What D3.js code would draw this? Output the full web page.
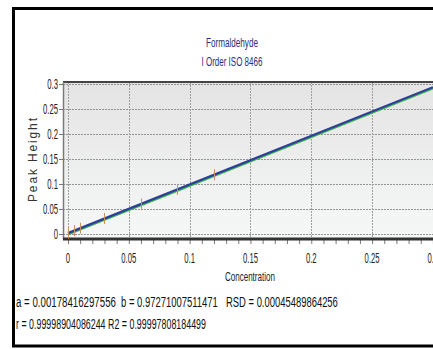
<!DOCTYPE html>
<html>
<head>
<meta charset="utf-8">
<script src="https://cdn.jsdelivr.net/npm/d3@7"></script>
<style>
  html, body { margin: 0; padding: 0; background: #fff; }
  svg { display: block; }
  text { font-family: "Liberation Sans", Arial, sans-serif; }
</style>
</head>
<body>
<div id="chart"></div>
<script>
// calibration data
var concentration = [0, 0.005, 0.01, 0.03, 0.06, 0.09, 0.12, 0.3];
var peakHeight = [0.0016, 0.0066, 0.0115, 0.0311, 0.0601, 0.0893, 0.1185, 0.2936];
var errorHalf = [0.011, 0.011, 0.011, 0.011, 0.011, 0.011, 0.011, 0.011];
var fitA = 0.00178416297556;
var fitB = 0.97271007511471;
var xTicks = [0, 0.05, 0.1, 0.15, 0.2, 0.25, 0.3];
var yTicks = [0, 0.05, 0.1, 0.15, 0.2, 0.25, 0.3];
var xMinor = d3.range(0, 31).map(function(i){ return i / 100; });
var titleLines = ["Formaldehyde", "I Order ISO 8466"];
var statLine1 = ["a = 0.00178416297556", "b = 0.97271007511471", "RSD = 0.00045489864256"];
var statLine2 = "r = 0.99998904086244 R2 = 0.99997808184499";

var W = 433, H = 349;
var svg = d3.select("#chart").append("svg")
    .attr("width", W)
    .attr("height", H);

// squeeze a text horizontally so it spans the given width
function fitText(sel, px, py, width, anchor)
{
    var natural = sel.node().getComputedTextLength();
    var s = width / natural;
    var shift = 0;
    if (anchor == "middle") { shift = -width / 2; }
    sel.attr("transform", "translate(" + (px + shift) + "," + py + ") scale(" + s + ",1)");
}

// outer frame
svg.append("rect")
    .attr("x", 13.5).attr("y", 8.5)
    .attr("width", 440).attr("height", 337.5)
    .attr("fill", "#fff")
    .attr("stroke", "#000")
    .attr("stroke-width", 3);

var pLeft = 63, pRight = 439, pTop = 82, pBottom = 239;

var x = d3.scaleLinear().domain([-0.0041, 0.305]).range([pLeft, pRight]);
var y = d3.scaleLinear().domain([-0.01, 0.304]).range([pBottom, pTop]);

var defs = svg.append("defs");
var grad = defs.append("linearGradient")
    .attr("id", "bg").attr("x1", 0).attr("y1", 0).attr("x2", 0).attr("y2", 1);
grad.append("stop").attr("offset", "0%").attr("stop-color", "#e4e4e4");
grad.append("stop").attr("offset", "100%").attr("stop-color", "#f6f7f7");

defs.append("clipPath").attr("id", "plotclip")
  .append("rect").attr("x", pLeft).attr("y", pTop)
  .attr("width", pRight - pLeft).attr("height", pBottom - pTop);

svg.append("rect")
    .attr("x", pLeft).attr("y", pTop)
    .attr("width", pRight - pLeft).attr("height", pBottom - pTop)
    .attr("fill", "url(#bg)");

// grid
var grid = svg.append("g").attr("clip-path", "url(#plotclip)");
grid.selectAll(".hg").data(yTicks).enter().append("line")
    .attr("x1", pLeft).attr("x2", pRight)
    .attr("y1", function(d){ return Math.round(y(d)) + 0.5; })
    .attr("y2", function(d){ return Math.round(y(d)) + 0.5; })
    .attr("stroke", "#939393").attr("stroke-dasharray", "2,1");
grid.selectAll(".vg").data(xTicks).enter().append("line")
    .attr("y1", pTop).attr("y2", pBottom)
    .attr("x1", function(d){ return Math.round(x(d)) + 0.5; })
    .attr("x2", function(d){ return Math.round(x(d)) + 0.5; })
    .attr("stroke", "#a0a0a0").attr("stroke-dasharray", "2,1");

// plot borders
svg.append("line").attr("x1", pLeft).attr("x2", W).attr("y1", pTop).attr("y2", pTop)
    .attr("stroke", "#444").attr("stroke-width", 2);
svg.append("line").attr("x1", pLeft + 0.5).attr("x2", pLeft + 0.5).attr("y1", pTop).attr("y2", pBottom)
    .attr("stroke", "#7a7a7a").attr("stroke-width", 1.5);

// x axis
var xAxis = d3.axisBottom(x).tickValues(xMinor).tickSize(4).tickFormat("");
var gx = svg.append("g").attr("transform", "translate(0," + (pBottom + 1) + ")").call(xAxis);
gx.select(".domain").remove();
gx.selectAll(".tick line").attr("stroke", "#777");
svg.append("line").attr("x1", pLeft).attr("x2", W).attr("y1", pBottom).attr("y2", pBottom)
    .attr("stroke", "#333").attr("stroke-width", 3);

var xl = svg.append("g");
xl.selectAll("text").data(xTicks).enter().append("text")
    .attr("transform", function(d){ return "translate(" + x(d) + ",263) scale(0.55,1)"; })
    .attr("text-anchor", "middle")
    .attr("font-size", 14)
    .attr("fill", "#222")
    .text(function(d){ return d3.format("~g")(d); });

// y axis
var yAxis = d3.axisLeft(y).tickValues(yTicks).tickSize(4).tickFormat("");
var gy = svg.append("g").attr("transform", "translate(" + pLeft + ",0)").call(yAxis);
gy.select(".domain").remove();
gy.selectAll(".tick line").attr("stroke", "#777");

var yl = svg.append("g");
yl.selectAll("text").data(yTicks).enter().append("text")
    .attr("transform", function(d){ return "translate(58," + (y(d) + 5) + ") scale(0.55,1)"; })
    .attr("text-anchor", "end")
    .attr("font-size", 14)
    .attr("fill", "#222")
    .text(function(d){ return d3.format("~g")(d); });

// series
var plot = svg.append("g").attr("clip-path", "url(#plotclip)");
var line = d3.line()
    .x(function(d, i){ return x(concentration[i]); })
    .y(function(d){ return y(d); });

plot.append("path")
    .datum(peakHeight)
    .attr("d", line)
    .attr("transform", "translate(0.6,1.1)")
    .attr("fill", "none")
    .attr("stroke", "#3cb34a")
    .attr("stroke-width", 2);

var fitX = [0, 0.3];
plot.append("path")
    .datum(fitX)
    .attr("d", d3.line()
        .x(function(d){ return x(d); })
        .y(function(d){ return y(fitA + fitB * d); }))
    .attr("fill", "none")
    .attr("stroke", "#2d3f98")
    .attr("stroke-width", 2.2);

plot.selectAll(".err").data(peakHeight).enter().append("line")
    .attr("x1", function(d, i){ return Math.round(x(concentration[i])) + 0.5; })
    .attr("x2", function(d, i){ return Math.round(x(concentration[i])) + 0.5; })
    .attr("y1", function(d, i){ return y(d - errorHalf[i]); })
    .attr("y2", function(d, i){ return y(d + errorHalf[i]); })
    .attr("stroke", "#c6925f")
    .attr("stroke-width", 1);

// titles
var titleW = [52, 61];
svg.selectAll(".title").data(titleLines).enter().append("text")
    .attr("font-size", 12)
    .attr("fill", "#2b2f7a")
    .text(function(d){ return d; })
    .each(function(d, i){ fitText(d3.select(this), 232, 47 + i * 19, titleW[i], "middle"); });

fitText(svg.append("text")
    .attr("font-size", 12)
    .attr("fill", "#222")
    .text("Concentration"), 250, 281, 50, "middle");

svg.append("text")
    .attr("transform", "translate(37,160) rotate(-90)")
    .attr("text-anchor", "middle")
    .attr("font-family", "DejaVu Sans")
    .attr("font-size", 12)
    .attr("fill", "#333")
    .attr("textLength", 84)
    .attr("lengthAdjust", "spacing")
    .text("Peak Height");

// statistics
var statX = [16, 121, 226];
var statW = [100, 97, 112];
svg.selectAll(".stat").data(statLine1).enter().append("text")
    .attr("font-size", 14)
    .attr("fill", "#111")
    .text(function(d){ return d; })
    .each(function(d, i){ fitText(d3.select(this), statX[i], 307, statW[i], "start"); });

fitText(svg.append("text")
    .attr("font-size", 14)
    .attr("fill", "#111")
    .text(statLine2), 16, 329, 190, "start");
</script>
</body>
</html>
